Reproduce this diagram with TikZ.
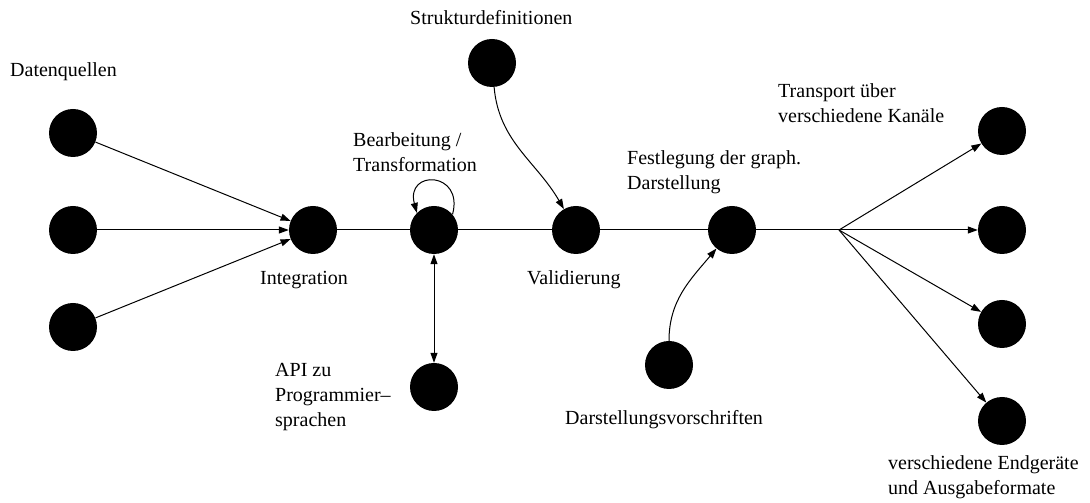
\documentclass[tikz,border=0pt]{standalone}
\usepackage{fontspec}
\setmainfont{Liberation Serif}
\usetikzlibrary{arrows.meta}
% left-aligned multi-line label, baseline on its first line
\newcommand{\txtlines}[1]{\begin{tabular}[t]{@{}l@{}}#1\end{tabular}}
\begin{document}
\begin{tikzpicture}[x=1pt,y=1pt,
  dot/.style={circle,fill=black,minimum size=48pt,inner sep=0pt},
  lbl/.style={anchor=base west,inner sep=0pt,font=\fontsize{20}{25}\selectfont},
  link/.style={line width=1pt},
  arr/.style={link,-{Triangle[length=10pt,width=7pt]}},
  darr/.style={link,{Triangle[length=10pt,width=7pt]}-{Triangle[length=10pt,width=7pt]}},
]
\useasboundingbox (0,0) rectangle (1090,503);

% data sources and processing chain
\node[dot] (s1) at (73,370) {};
\node[dot] (s2) at (73,273) {};
\node[dot] (s3) at (73,176) {};
\node[dot] (int) at (313,273) {};
\node[dot] (bear) at (434,273) {};
\node[dot] (api) at (434,116) {};
\node[dot] (strukt) at (492,440) {};
\node[dot] (valid) at (576,273) {};
\node[dot] (fest) at (732,273) {};
\node[dot] (darst) at (669,138) {};
\coordinate (branch) at (839,273);
\node[dot] (o1) at (1002,372) {};
\node[dot] (o2) at (1002,273) {};
\node[dot] (o3) at (1002,179) {};
\node[dot] (o4) at (1002,82) {};

% labels
\node[lbl] (tq) at (10,426) {Datenquellen};
\node[lbl] (ti) at (260,218) {Integration};
\node[lbl] (tb) at (353,356) {\txtlines{Bearbeitung /\\Transformation}};
\node[lbl] (ts) at (410,478) {Strukturdefinitionen};
\node[lbl] (tv) at (527,218) {Validierung};
\node[lbl] (tf) at (627,338) {\txtlines{Festlegung der graph.\\Darstellung}};
\node[lbl] (tt) at (778,405) {\txtlines{Transport über\\verschiedene Kanäle}};
\node[lbl] (ta) at (275,126) {\txtlines{API zu\\Programmier--\\sprachen}};
\node[lbl] (td) at (565,78) {Darstellungsvorschriften};
\node[lbl] (te) at (888,33) {\txtlines{verschiedene Endgeräte\\und Ausgabeformate}};

% connectors
\draw[arr] (s1) -- (int);
\draw[arr] (s2) -- (int);
\draw[arr] (s3) -- (int);
\draw[link] (int) -- (bear);
\draw[link] (bear) -- (valid);
\draw[link] (valid) -- (fest);
\draw[link] (fest) -- (branch);
\draw[arr] (branch) -- (o1);
\draw[arr] (branch) -- (o2);
\draw[arr] (branch) -- (o3);
\draw[arr] (branch) -- (o4);
\draw[darr] (bear) -- (api);
\draw[arr] (strukt) to[out=-85,in=120] (valid);
\draw[arr] (darst) to[out=90,in=230] (fest);
\draw[arr] (bear.40) .. controls +(75:45) and +(105:45) .. (bear.135);
\end{tikzpicture}
\end{document}
